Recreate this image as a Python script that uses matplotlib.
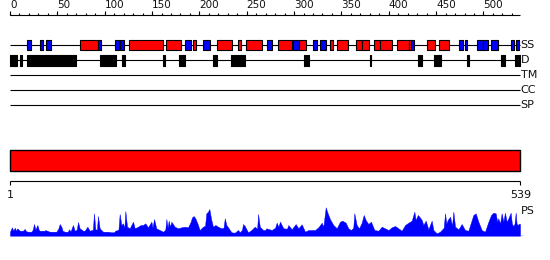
import matplotlib
matplotlib.use("Agg")
import matplotlib.pyplot as plt

# ---------------- data ----------------
seq_len = 539
ruler_major = [0, 50, 100, 150, 200, 250, 300, 350, 400, 450, 500]
ruler_minor = list(range(0, 531, 10))

# secondary structure: H = helix (red), E = strand (blue)
ss_type = ["E", "E", "E", "H", "E", "E", "E", "H", "H", "E", "H", "E", "H", "H", "H",
           "E", "H", "E", "H", "E", "E", "H", "H", "H", "H", "H", "H", "H", "H", "E",
           "H", "H", "E", "E", "E", "E", "E", "E", "E"]
ss_start = [18, 32, 38, 74, 93, 111, 116, 126, 165, 185, 193, 204, 219, 241, 249,
            271, 283, 299, 305, 320, 327, 338, 345, 365, 372, 384, 391, 409, 421, 423,
            440, 453, 474, 481, 493, 500, 508, 529, 534]
ss_end = [22, 35, 43, 93, 96, 115, 120, 162, 181, 191, 196, 211, 234, 244, 266,
          277, 298, 305, 313, 324, 334, 341, 357, 372, 379, 391, 403, 421, 423, 427,
          449, 464, 478, 483, 499, 505, 515, 532, 538]

# disorder segments
dis_start = [0, 11, 18, 95, 118, 162, 178, 214, 233, 311, 314, 380, 431, 448, 483, 518, 533, 536]
dis_end = [7, 13, 70, 112, 121, 164, 185, 219, 248, 313, 316, 381, 435, 455, 485, 523, 535, 539]

track_labels = ["SS", "D", "TM", "CC", "SP"]
domain_start = 1
domain_end = 539
end_labels = ["1", "539"]

# PS profile (position, score)
ps_pos = [0, 2, 3.5, 5, 6.5, 7.7, 10.2, 13.7, 15.5, 17, 19, 22.5, 24, 25.4, 26.8, 28.9, 30.3,
          31.3, 36.6, 37.3, 41.9, 48.9, 51, 52.5, 54.2, 55.5, 57.7, 61.3, 62.0, 64, 66.5, 68.3,
          70.5, 71.8, 73.6, 77.1, 78.9, 81.7, 84.1, 87.5, 88.7, 90.1, 91.8, 92.9, 94.7, 98.2,
          103.5, 107.0, 109.8, 111.2, 114.5, 115.8, 117.6, 119.3, 120.8, 121.8, 123.6, 126.4,
          129.9, 131.7, 135.2, 138.0, 140.5, 142.9, 145.7, 149.3, 150.5, 152.1, 154.5, 158.1,
          161.6, 164, 165.1, 166.5, 167.6, 169, 170.4, 173.9, 177.4, 181.0, 184.5, 188.0, 190.8,
          192.2, 194.0, 195.7, 197.9, 200.3, 203.8, 206, 207.3, 209.1, 210.5, 212.6, 214.4,
          216.9, 219.7, 223.2, 225.5, 226.8, 228.5, 231.0, 233.8, 237.3, 240.8, 242.6, 245,
          246.1, 247.9, 251.4, 254.9, 258.5, 261, 262.0, 263.8, 267.3, 269.3, 270.8, 276.3,
          280, 281.6, 283.5, 285.1, 288.7, 292.5, 293.9, 297.5, 301.7, 304.5, 308.0, 311.6,
          315.1, 322.1, 325.6, 329.2, 330.9, 333.4, 335.5, 338.0, 341.5, 345.0, 348.5, 351.0,
          354.5, 357.3, 360.1, 362.5, 363.6, 366.1, 368.6, 371.4, 373.5, 375.6, 378.4, 381.2,
          384.8, 389.0, 392.5, 396.0, 399.6, 403.1, 406.6, 410.1, 413.6, 417.2, 420.7, 424.2,
          427.0, 428.4, 430.6, 432.3, 434.8, 436.5, 439.0, 441.8, 445.3, 447.1, 450.6, 454.1,
          458, 459.4, 460.8, 462.2, 464.7, 466.8, 468.2, 470.0, 473.5, 477.0, 480.5, 484.0,
          487.6, 489.3, 491.8, 494.6, 498.1, 501.6, 505.2, 508.0, 510.4, 512.9, 514.5, 515.7,
          517.5, 519.2, 521, 522.7, 524.5, 526.3, 528.7, 530, 531.5, 532.8, 534.0, 535, 536.1,
          537.5, 538.6]
ps_val = [4.0, 8.4, 5, 8, 5, 7.4, 5.0, 5.0, 6.8, 4.5, 4.0, 4.0, 6, 11.7, 6, 10.7, 6,
          5.0, 5.0, 5.7, 4.0, 4.0, 7, 11.7, 9.0, 5, 4.0, 4.0, 6.4, 4.5, 10.7, 5.0,
          6, 13.7, 7.4, 5.0, 5.0, 9.0, 5.0, 6, 22.4, 6.4, 6, 19.7, 7.4, 4.0,
          4.0, 3.4, 3.4, 5.0, 6, 21.7, 10.7, 12.4, 8, 24.7, 9.0, 7.4,
          14.0, 7.4, 9.0, 10.7, 10.7, 12.4, 8.4, 14.0, 8, 16.7, 7.4, 5.7,
          4.0, 6, 16.7, 8, 15.0, 9, 14.0, 9.0, 7.4, 8.4, 9.0, 8.4, 14.0,
          18.4, 19.7, 17.4, 12.4, 5.7, 9.0, 10, 22.4, 24.0, 26.7, 15.7, 9.0,
          10.7, 9.0, 7.4, 8, 17.4, 10.7, 7.4, 3.4, 3.0, 5.7, 3.4, 6,
          11.7, 9.7, 3.4, 5.7, 9.0, 7, 21.7, 9.0, 5.7, 5.7, 7.4, 5.7,
          8, 13.0, 9, 14.0, 7.4, 7, 10.7, 6.4, 11.7, 7.4, 11.4, 4.0,
          5.7, 5.7, 8.4, 13.0, 9.0, 28.4, 22.4, 16.4, 10.7, 7.4, 14.0, 15.0,
          13.0, 7.4, 5.7, 8, 22.4, 10.7, 7.4, 13.0, 20.7, 15.7, 11.7, 14.0,
          5.7, 5.0, 9.0, 7.4, 5.7, 8.4, 9.7, 7.4, 5.0, 10.7, 13.0, 15.0,
          24.0, 15.7, 20.7, 19.0, 15.7, 10.7, 15.0, 6.4, 15.0, 5.7, 2.4, 4.0,
          8, 22.4, 12, 15.7, 19.0, 10, 24.0, 9.0, 6.4, 11.7, 5.7, 5.0,
          15.7, 20.7, 22.4, 14.0, 5.7, 4.0, 14.0, 20.7, 23.0, 22.4, 14, 17.4,
          12, 22.4, 14, 23.0, 14, 17.4, 23.0, 12, 9.7, 12, 23.0, 12, 10.7,
          12, 11.7]

# ---------------- layout ----------------
W, H = 550, 260
px_per_res = 510.4 / seq_len
x0 = -10 / px_per_res
x1 = x0 + W / px_per_res

RED = "#FF0000"
BLUE = "#0000FF"
LW = 0.8

fig = plt.figure(figsize=(W / 100, H / 100), dpi=100)
ax = fig.add_axes([0, 0, 1, 1])
ax.set_xlim(x0, x1)
ax.set_ylim(H, 0)
ax.axis("off")

# top ruler
ax.hlines(15, 0, seq_len, color="black", lw=LW)
ax.vlines(ruler_minor, 13, 15, color="black", lw=LW)
ax.vlines(ruler_major, 11, 15, color="black", lw=LW)
for t in ruler_major:
    ax.text(t, 10.5, str(t), ha="left", va="bottom", fontsize=7.5, color="#111111")

# tracks
track_y = [45, 60, 75, 90, 105]
for lab, y in zip(track_labels, track_y):
    ax.hlines(y, 0, seq_len, color="black", lw=LW, zorder=1)
    ax.text(seq_len + 0.3, y, lab, ha="left", va="center", fontsize=8, color="#111111")

# secondary structure boxes
ss_colors = [RED if t == "H" else BLUE for t in ss_type]
ax.broken_barh([(s, e - s) for s, e in zip(ss_start, ss_end)], (40, 10),
               facecolors=ss_colors, edgecolor="black", linewidth=LW, zorder=2)

# disorder boxes
ax.broken_barh([(s, e - s) for s, e in zip(dis_start, dis_end)], (55, 10.5),
               facecolors="black", edgecolor="black", linewidth=LW, zorder=2)

# domain bar
ax.broken_barh([(domain_start - 1, domain_end - domain_start + 1)], (150, 20.5),
               facecolors=RED, edgecolor="black", linewidth=1.0, zorder=2)

# bottom ruler
ax.hlines(181, domain_start - 1, domain_end, color="black", lw=LW)
ax.vlines([domain_start - 1, domain_end], 181, 185, color="black", lw=LW)
ax.text(domain_start - 1, 190.5, end_labels[0], ha="center", va="top", fontsize=8, color="#111111")
ax.text(domain_end, 190.5, end_labels[1], ha="center", va="top", fontsize=8, color="#111111")

ax.text(seq_len + 0.3, 211, "PS", ha="left", va="center", fontsize=8, color="#111111")

# PS profile
base_px = 235.7
ax_ps = fig.add_axes([0, (H - base_px) / H, 1, 30 / H])
ax_ps.set_xlim(x0, x1)
ax_ps.set_ylim(0, 30)
ax_ps.axis("off")
ax_ps.fill_between(ps_pos, 0, ps_val, color=BLUE, lw=0.3)
ax_ps.hlines(0, 0, seq_len + 3, color=BLUE, lw=1.0)

fig.savefig("out.png", dpi=100)
